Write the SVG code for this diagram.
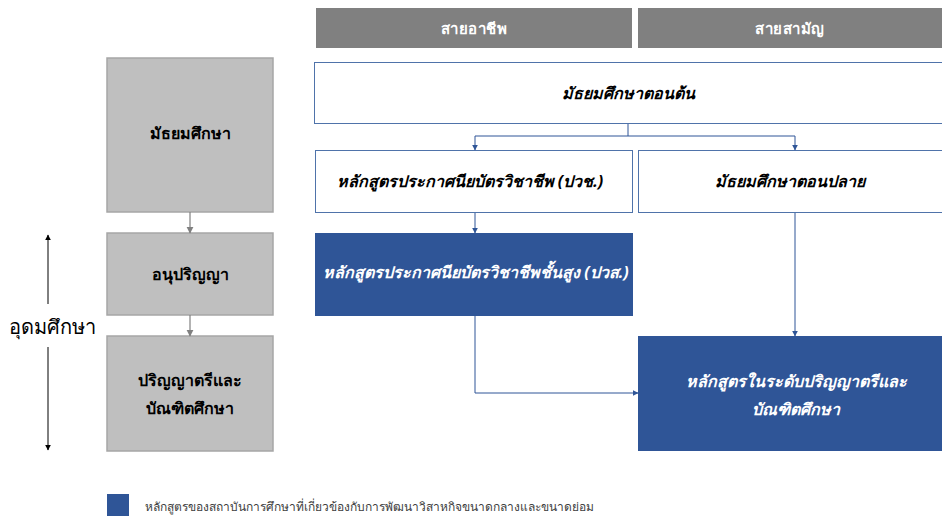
<svg xmlns="http://www.w3.org/2000/svg" width="942" height="516" viewBox="0 0 942 516">
<defs>
<marker id="ab" viewBox="0 0 10 10" refX="9" refY="5" markerWidth="6" markerHeight="6" orient="auto"><path d="M0,0 L10,5 L0,10 z" fill="#2f5597"/></marker>
<marker id="ag" viewBox="0 0 10 10" refX="9" refY="5" markerWidth="6" markerHeight="6" orient="auto"><path d="M0,0 L10,5 L0,10 z" fill="#808080"/></marker>
<marker id="ak" viewBox="0 0 10 10" refX="9" refY="5" markerWidth="6" markerHeight="6" orient="auto"><path d="M0,0 L10,5 L0,10 z" fill="#000"/></marker>
</defs>
<style>
text{font-family:"Noto Sans","DejaVu Sans","Liberation Sans",sans-serif;text-anchor:middle;dominant-baseline:central}
.hdr{fill:#808080}
.hdrt{fill:#fff;font-size:15px;font-weight:bold;letter-spacing:0.5px}
.wb{fill:#fff;stroke:#4f73aa;stroke-width:1}
.bb{fill:#2f5597;stroke:#2f5597;stroke-width:1}
.gb{fill:#bfbfbf;stroke:#a6a6a6;stroke-width:1.5}
.it{font-size:16px;font-weight:bold;font-style:italic;fill:#000}
.itw{font-size:16px;font-weight:bold;font-style:italic;fill:#fff}
.gt{font-size:16px;font-weight:bold;fill:#000}
.cb{fill:none;stroke:#2f5597;stroke-width:1;marker-end:url(#ab)}
.cg{fill:none;stroke:#808080;stroke-width:1.2;marker-end:url(#ag)}
.ck{fill:none;stroke:#000;stroke-width:1;marker-end:url(#ak)}
</style>
<rect width="942" height="516" fill="#fff"/>
<g id="hdr-vocational"><rect class="hdr" x="316" y="8" width="316" height="40"/><text class="hdrt" x="474" y="28">สายอาชีพ</text></g>
<g id="hdr-general"><rect class="hdr" x="638" y="8" width="304" height="40"/><text class="hdrt" x="790" y="28">สายสามัญ</text></g>
<g id="n-lower"><rect class="wb" x="314.5" y="62.5" width="628" height="61"/><text class="it" x="628" y="93">มัธยมศึกษาตอนต้น</text></g>
<g id="n-pvc"><rect class="wb" x="315.5" y="150.5" width="317" height="62"/><text class="it" x="470" y="181">หลักสูตรประกาศนียบัตรวิชาชีพ (ปวช.)</text></g>
<g id="n-upper"><rect class="wb" x="638.5" y="150.5" width="304" height="62"/><text class="it" x="790" y="181">มัธยมศึกษาตอนปลาย</text></g>
<g id="n-pvs"><rect class="bb" x="315.5" y="233.5" width="317" height="82"/><text class="itw" x="476" y="272">หลักสูตรประกาศนียบัตรวิชาชีพชั้นสูง (ปวส.)</text></g>
<g id="n-bachelor"><rect class="bb" x="638.5" y="336.5" width="304" height="114"/><text class="itw" x="796" y="381">หลักสูตรในระดับปริญญาตรีและ</text><text class="itw" x="796" y="409">บัณฑิตศึกษา</text></g>
<g id="l-secondary"><rect class="gb" x="107" y="58" width="166" height="154"/><text class="gt" x="190" y="133">มัธยมศึกษา</text></g>
<g id="l-diploma"><rect class="gb" x="107" y="233" width="166" height="82"/><text class="gt" x="190" y="274">อนุปริญญา</text></g>
<g id="l-degree"><rect class="gb" x="107" y="336" width="166" height="115"/><text class="gt" x="190" y="380">ปริญญาตรีและ</text><text class="gt" x="190" y="408">บัณฑิตศึกษา</text></g>
<g id="connectors">
<path class="cb" d="M628,124 V136 H475 V150"/>
<path class="cb" d="M628,136 H795 V150"/>
<path class="cb" d="M475,213 V233"/>
<path class="cb" d="M795,213 V336"/>
<path class="cb" d="M475,316 V393 H638"/>
<path class="cg" d="M190,212 V233"/>
<path class="cg" d="M190,315 V336"/>
<path class="ck" d="M48,304 V235"/>
<path class="ck" d="M48,347 V450"/>
</g>
<text x="52" y="326" style="font-size:20px;fill:#000">อุดมศึกษา</text>
<g id="legend"><rect x="107" y="494" width="22" height="22" fill="#2f5597"/><text x="145" y="506" style="font-size:12px;fill:#404040;text-anchor:start">หลักสูตรของสถาบันการศึกษาที่เกี่ยวข้องกับการพัฒนาวิสาหกิจขนาดกลางและขนาดย่อม</text></g>
</svg>
